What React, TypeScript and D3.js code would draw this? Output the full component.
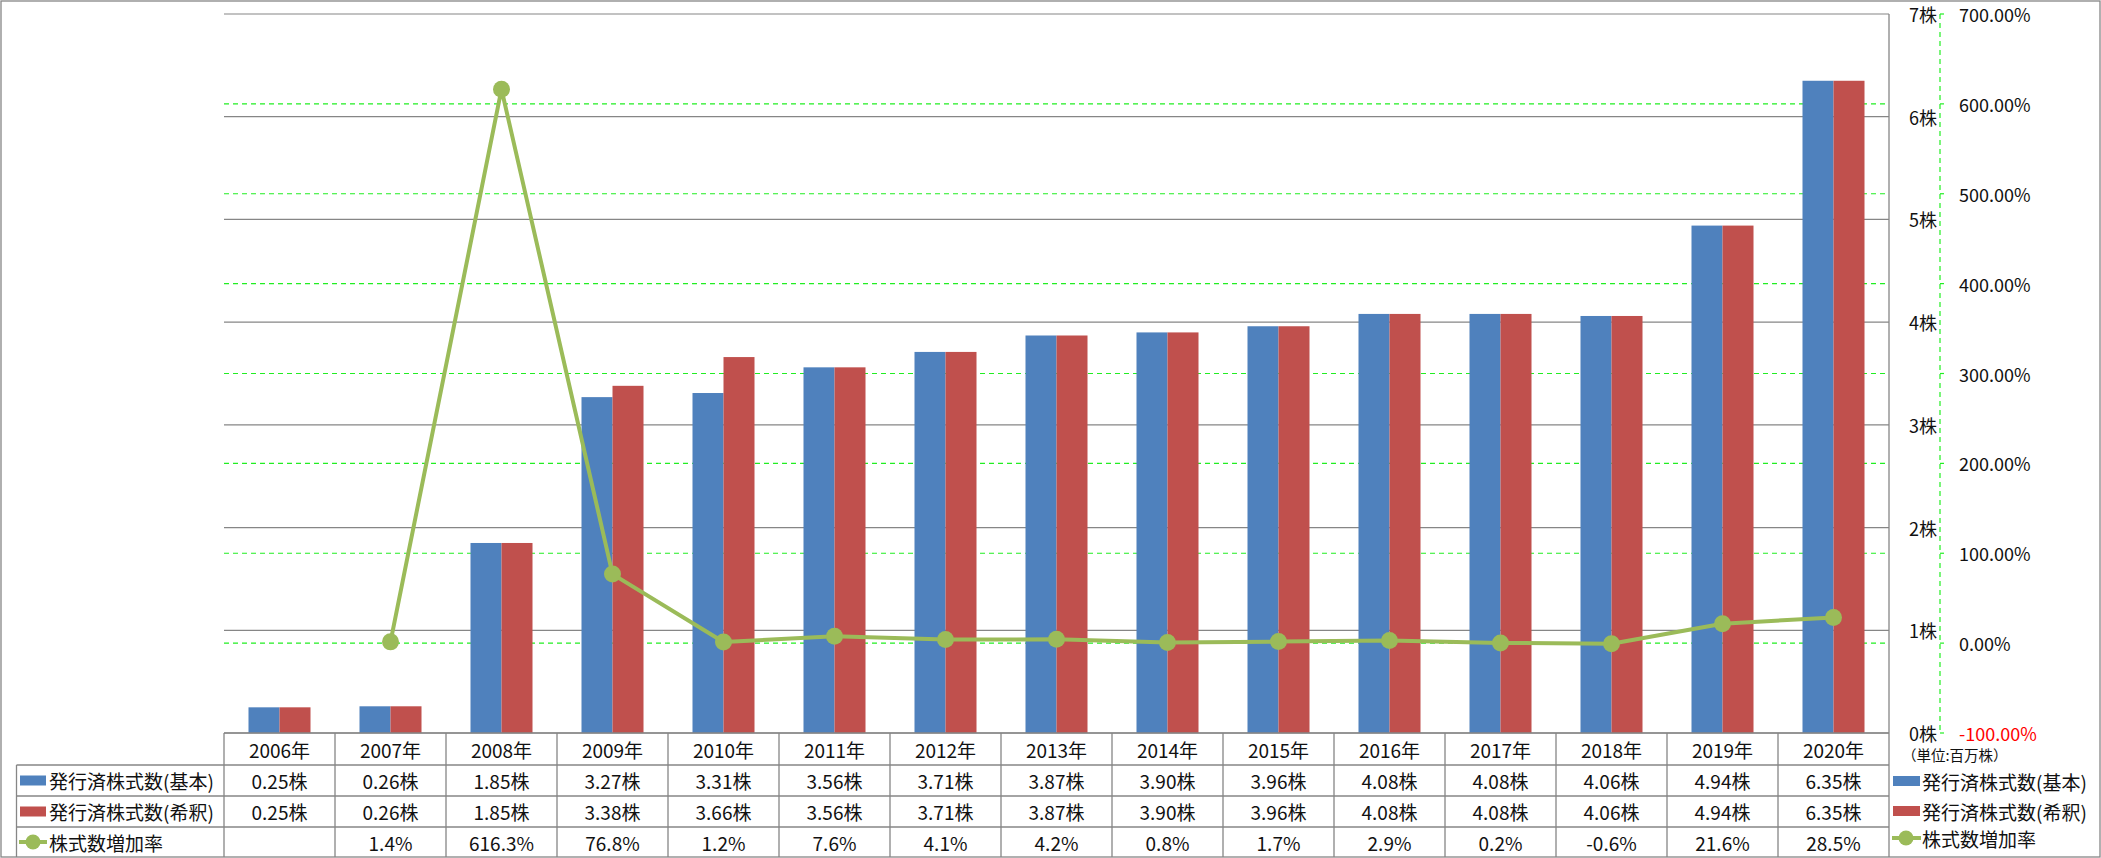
import React, { useEffect } from "react";
import * as d3 from "d3";

const years = ["2006年","2007年","2008年","2009年","2010年","2011年","2012年","2013年","2014年","2015年","2016年","2017年","2018年","2019年","2020年"];
const basicShares = [0.25,0.26,1.85,3.27,3.31,3.56,3.71,3.87,3.90,3.96,4.08,4.08,4.06,4.94,6.35];
const dilutedShares = [0.25,0.26,1.85,3.38,3.66,3.56,3.71,3.87,3.90,3.96,4.08,4.08,4.06,4.94,6.35];
const growthRate: (number | null)[] = [null,1.4,616.3,76.8,1.2,7.6,4.1,4.2,0.8,1.7,2.9,0.2,-0.6,21.6,28.5];
const leftTicks = [0,1,2,3,4,5,6,7];
const rightTicks = [-100,0,100,200,300,400,500,600,700];
const seriesNames = ["発行済株式数(基本)","発行済株式数(希釈)","株式数増加率"];
const unitLabel = "（単位:百万株）";

const W = 2101, H = 858;
const PL = 224, PR = 1889, PT = 14, PB = 733;
const BLUE = "#4F81BD", RED = "#C0504D", GREEN = "#9BBB59", GRID = "#868686", LIME = "#22ee22";
const FONT = "'Noto Sans CJK JP', 'Noto Sans', sans-serif";

export default function App() {
  useEffect(() => { document.body.style.margin = "0"; }, []);
  const x = d3.scaleBand<string>().domain(years).range([PL, PR]).padding(0);
  const bw = x.bandwidth();
  const xs = d3.scaleBand<string>().domain(["b","d"]).range([0, bw]).paddingInner(0).paddingOuter(0.79);
  const yL = d3.scaleLinear().domain([0,7]).range([PB, PT]);
  const yR = d3.scaleLinear().domain([-100,700]).range([PB, PT]);
  const line = d3.line<number | null>()
    .defined(d => d != null)
    .x((_, i) => (x(years[i]) as number) + bw / 2)
    .y(d => yR(d as number));

  const rowTop = [733, 765, 796, 827, 857];
  const cellFmt = (v: number) => v.toFixed(2) + "株";

  return (
    <svg width={W} height={H} style={{ position: "absolute", left: 0, top: 0, fontFamily: FONT }}>
      <rect x={0} y={0} width={W} height={H} fill="#fff" />
      <rect x={1} y={1} width={W - 2} height={H - 2} fill="none" stroke={GRID} strokeWidth={1.3} />
      {leftTicks.map(t => (
        <line key={"g" + t} x1={PL} x2={PR} y1={yL(t)} y2={yL(t)} stroke={GRID} strokeWidth={1.2} />
      ))}
      {rightTicks.filter(t => t > -100 && t < 700).map(t => (
        <line key={"r" + t} x1={PL} x2={PR} y1={yR(t)} y2={yR(t)} stroke={LIME} strokeWidth={1.2} strokeDasharray="5,4" />
      ))}
      {years.map((yr, i) => (
        <g key={yr} transform={`translate(${x(yr)},0)`}>
          <rect x={xs("b")} y={yL(basicShares[i])} width={xs.bandwidth()} height={PB - yL(basicShares[i])} fill={BLUE} />
          <rect x={xs("d")} y={yL(dilutedShares[i])} width={xs.bandwidth()} height={PB - yL(dilutedShares[i])} fill={RED} />
        </g>
      ))}
      <line x1={PR} x2={PR} y1={PT} y2={PB} stroke={GRID} strokeWidth={1.3} />
      {leftTicks.map(t => (
        <text key={"l" + t} x={1937} y={yL(t)} textAnchor="end" dominantBaseline="central" fontSize={18} fill="#111">{t}株</text>
      ))}
      <line x1={1940} x2={1940} y1={PT} y2={PB} stroke={LIME} strokeWidth={1.2} strokeDasharray="5,4" />
      {rightTicks.map(t => (
        <g key={"rt" + t}>
          <line x1={1940} x2={1944} y1={yR(t)} y2={yR(t)} stroke={LIME} strokeWidth={1.2} />
          <text x={1959} y={yR(t)} dominantBaseline="central" fontSize={18} fill={t < 0 ? "#ff0000" : "#111"}>{t.toFixed(2)}%</text>
        </g>
      ))}
      <path d={line(growthRate) || ""} fill="none" stroke={GREEN} strokeWidth={4} strokeLinejoin="round" />
      {growthRate.map((g, i) => g == null ? null : (
        <circle key={"c" + i} cx={(x(years[i]) as number) + bw / 2} cy={yR(g)} r={8.5} fill={GREEN} />
      ))}
      <line x1={PL} x2={PR} y1={rowTop[0]} y2={rowTop[0]} stroke={GRID} strokeWidth={1.3} />
      {[1, 2, 3].map(r => (
        <line key={"hl" + r} x1={16.5} x2={PR} y1={rowTop[r]} y2={rowTop[r]} stroke={GRID} strokeWidth={1.3} />
      ))}
      <line x1={16.5} x2={16.5} y1={rowTop[1]} y2={rowTop[4]} stroke={GRID} strokeWidth={1.3} />
      {years.map(yr => (
        <line key={"vl" + yr} x1={x(yr)} x2={x(yr)} y1={rowTop[0]} y2={rowTop[4]} stroke={GRID} strokeWidth={1.3} />
      ))}
      <line x1={PR} x2={PR} y1={rowTop[0]} y2={rowTop[4]} stroke={GRID} strokeWidth={1.3} />
      {years.map((yr, i) => {
        const cx = (x(yr) as number) + bw / 2;
        const mid = (r: number) => (rowTop[r] + rowTop[r + 1]) / 2;
        return (
          <g key={"t" + yr} fontSize={19} fill="#111" textAnchor="middle">
            <text x={cx} y={mid(0)} dominantBaseline="central">{yr}</text>
            <text x={cx} y={mid(1)} dominantBaseline="central">{cellFmt(basicShares[i])}</text>
            <text x={cx} y={mid(2)} dominantBaseline="central">{cellFmt(dilutedShares[i])}</text>
            {growthRate[i] != null && <text x={cx} y={mid(3)} dominantBaseline="central">{(growthRate[i] as number).toFixed(1)}%</text>}
          </g>
        );
      })}
      {[0, 1, 2].map(k => {
        const cy = (rowTop[k + 1] + rowTop[k + 2]) / 2;
        return (
          <g key={"lk" + k}>
            {k < 2 ? (
              <rect x={20} y={cy - 5} width={26} height={10} fill={k === 0 ? BLUE : RED} />
            ) : (
              <g>
                <line x1={19} x2={47} y1={cy} y2={cy} stroke={GREEN} strokeWidth={4} />
                <circle cx={33} cy={cy} r={7.5} fill={GREEN} />
              </g>
            )}
            <text x={49} y={cy} dominantBaseline="central" fontSize={19} fill="#111">{seriesNames[k]}</text>
          </g>
        );
      })}
      <text x={1902} y={754} dominantBaseline="central" fontSize={14.5} fill="#111">{unitLabel}</text>
      {[0, 1, 2].map(k => {
        const cy = [781, 811, 838][k];
        return (
          <g key={"rl" + k}>
            {k < 2 ? (
              <rect x={1893} y={cy - 5} width={27} height={10} fill={k === 0 ? BLUE : RED} />
            ) : (
              <g>
                <line x1={1892} x2={1921} y1={cy} y2={cy} stroke={GREEN} strokeWidth={4} />
                <circle cx={1906} cy={cy} r={7.5} fill={GREEN} />
              </g>
            )}
            <text x={1922} y={cy} dominantBaseline="central" fontSize={19} fill="#111">{seriesNames[k]}</text>
          </g>
        );
      })}
    </svg>
  );
}
